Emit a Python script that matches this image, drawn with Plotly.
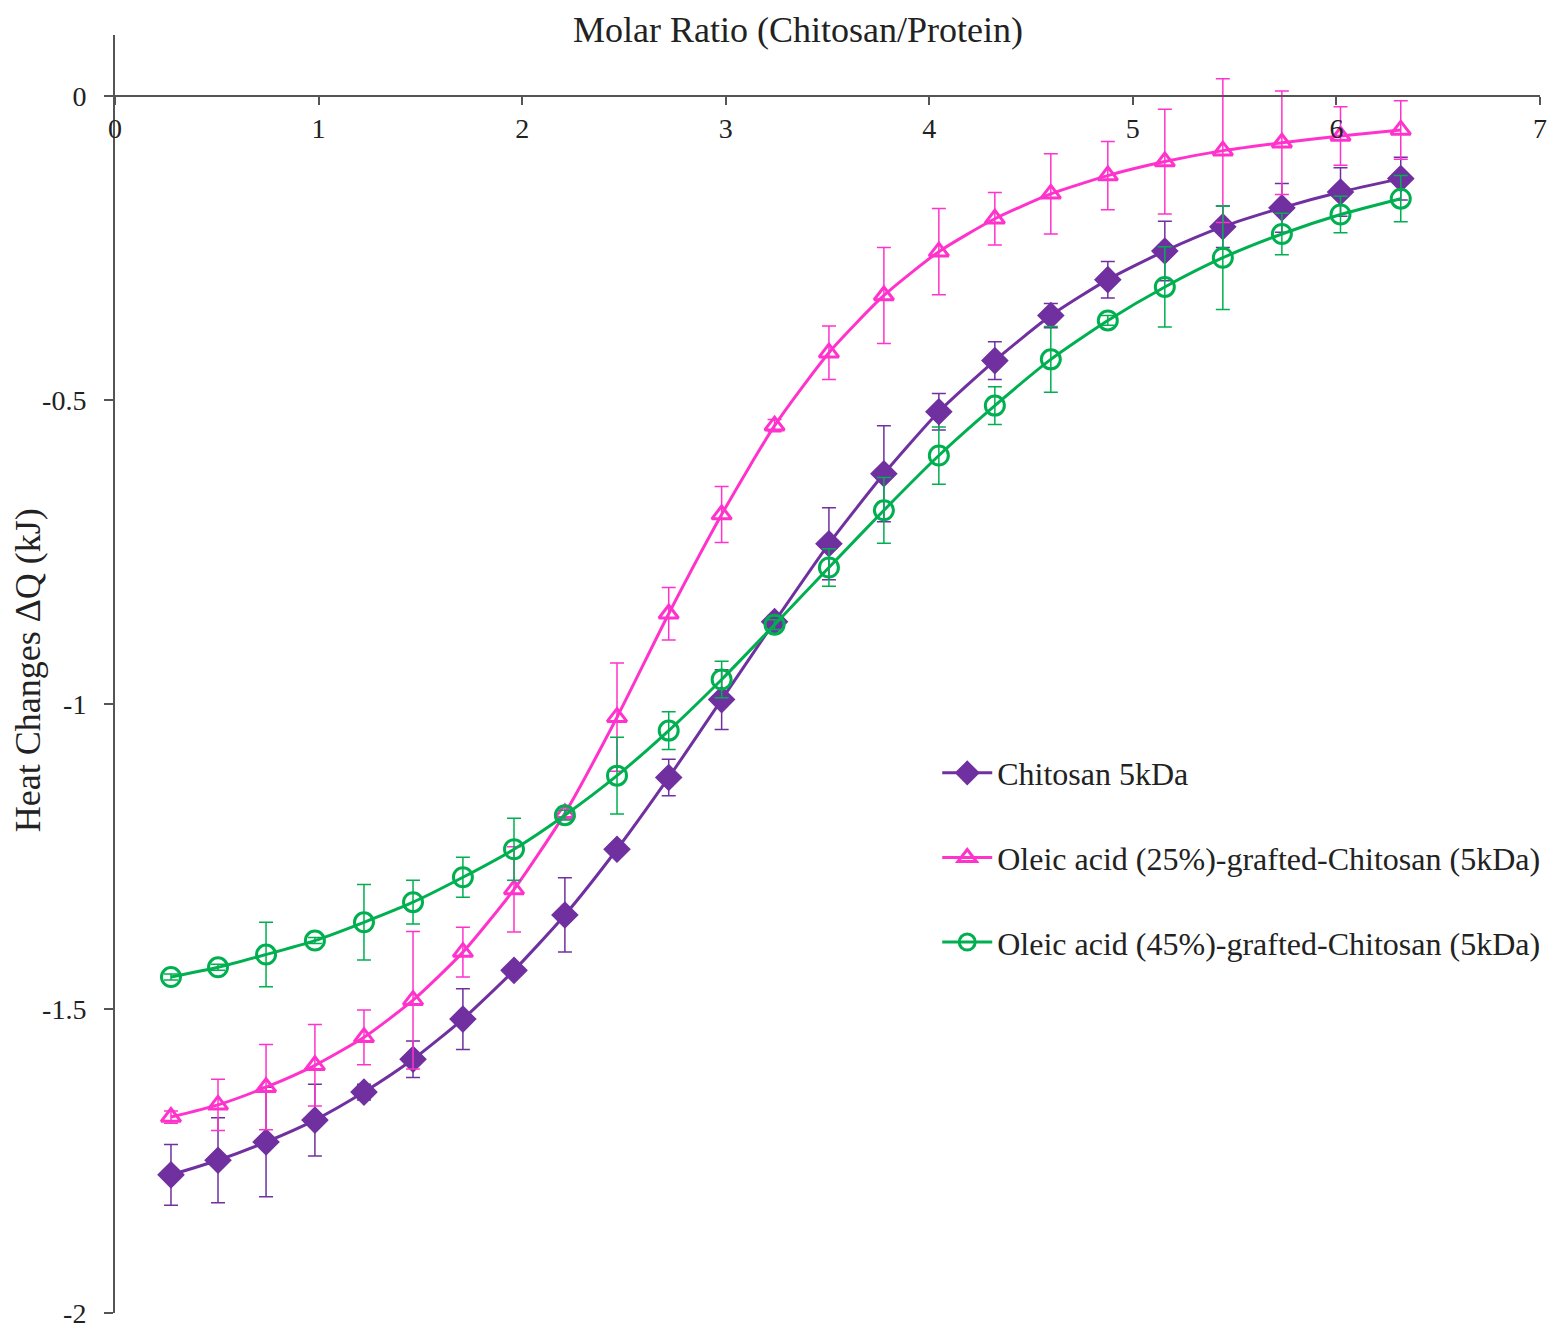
import plotly.graph_objects as go

# molar ratio (chitosan/protein) for each injection
molar_ratio = [0.275, 0.506, 0.742, 0.982, 1.223, 1.464, 1.709, 1.960, 2.210, 2.466, 2.720, 2.980,
               3.240, 3.507, 3.777, 4.047, 4.322, 4.597, 4.877, 5.157, 5.442, 5.732, 6.020, 6.316]

chitosan_5kda = [-1.773, -1.749, -1.719, -1.683, -1.637, -1.583, -1.517, -1.437, -1.346, -1.238, -1.120, -0.992,
                 -0.864, -0.736, -0.621, -0.519, -0.435, -0.361, -0.302, -0.255, -0.215, -0.184, -0.158, -0.136]
chitosan_5kda_err = [0.050, 0.070, 0.090, 0.059, 0.013, 0.030, 0.050, 0.005, 0.061, 0.005, 0.030, 0.049,
                     0.010, 0.059, 0.079, 0.030, 0.031, 0.020, 0.030, 0.049, 0.034, 0.040, 0.040, 0.035]

oleic_25 = [-1.678, -1.658, -1.629, -1.593, -1.547, -1.486, -1.407, -1.304, -1.179, -1.021, -0.851, -0.688,
            -0.542, -0.422, -0.328, -0.256, -0.202, -0.161, -0.131, -0.108, -0.090, -0.077, -0.066, -0.056]
oleic_25_err = [0.010, 0.042, 0.070, 0.067, 0.045, 0.113, 0.041, 0.070, 0.010, 0.089, 0.043, 0.046,
                0.010, 0.044, 0.079, 0.071, 0.043, 0.066, 0.056, 0.086, 0.118, 0.085, 0.048, 0.048]

oleic_45 = [-1.448, -1.432, -1.411, -1.388, -1.358, -1.325, -1.284, -1.238, -1.182, -1.117, -1.043, -0.959,
            -0.869, -0.775, -0.681, -0.591, -0.509, -0.433, -0.369, -0.314, -0.266, -0.227, -0.195, -0.169]
oleic_45_err = [0.005, 0.005, 0.053, 0.005, 0.062, 0.036, 0.033, 0.051, 0.008, 0.063, 0.031, 0.030,
                0.008, 0.031, 0.054, 0.047, 0.031, 0.054, 0.008, 0.066, 0.085, 0.034, 0.030, 0.038]

y_ticks = [0, -0.5, -1, -1.5, -2]
y_tick_labels = ['0', '-0.5', '-1', '-1.5', '-2']

series = [
    ('Chitosan 5kDa', chitosan_5kda, chitosan_5kda_err, '#7030A0', 'diamond', 18),
    ('Oleic acid (25%)-grafted-Chitosan (5kDa)', oleic_25, oleic_25_err, '#FF33CC', 'triangle-up-open', 17),
    ('Oleic acid (45%)-grafted-Chitosan (5kDa)', oleic_45, oleic_45_err, '#00B050', 'circle-open', 19),
]

font_family = 'Liberation Serif, Times New Roman, serif'

fig = go.Figure()
for i, (name, values, errs, color, symbol, size) in enumerate(series):
    fig.add_trace(go.Scatter(
        x=molar_ratio, y=values, name=name, mode='lines+markers',
        legendgroup=f'g{i}',
        line=dict(color=color, width=3, shape='spline', smoothing=0.6),
        marker=dict(symbol=symbol, size=size, color=color, line=dict(color=color, width=3)),
        error_y=dict(type='data', array=errs, visible=True, color=color, thickness=1.5, width=7),
    ))

# page body adds ~8px offset, margins compensate for it
fig.update_layout(
    width=1560, height=1332,
    margin=dict(l=107, r=28, t=27, b=27),
    plot_bgcolor='white', paper_bgcolor='white',
    font=dict(family=font_family, size=28, color='#222222'),
    showlegend=True,
    legend=dict(
        x=0.577, y=0.444, xanchor='left', yanchor='top',
        font=dict(size=32, color='#222222'), tracegroupgap=40,
        itemwidth=50, bgcolor='rgba(0,0,0,0)',
    ),
    xaxis=dict(
        range=[0, 7], dtick=1, anchor='free', position=2 / 2.1, side='bottom',
        showline=True, linecolor='#555555', linewidth=2,
        ticks='outside', ticklen=8, tickcolor='#555555', tickwidth=2,
        showgrid=False, zeroline=False, tickfont=dict(size=28),
    ),
    yaxis=dict(
        range=[-2, 0.1], tickvals=y_ticks, ticktext=y_tick_labels,
        showline=True, linecolor='#555555', linewidth=2,
        ticks='outside', ticklen=9, tickcolor='#555555', tickwidth=2,
        showgrid=False, zeroline=False, tickfont=dict(size=28), ticklabelstandoff=12,
    ),
    annotations=[
        dict(text='Molar Ratio (Chitosan/Protein)', x=0.479, y=1.004, xref='paper', yref='paper',
             xanchor='center', yanchor='middle', showarrow=False, font=dict(size=36)),
        dict(text='Heat Changes ΔQ (kJ)', x=-0.061, y=0.503, xref='paper', yref='paper',
             xanchor='center', yanchor='middle', textangle=-90, showarrow=False, font=dict(size=36)),
    ],
)

fig.write_html('out.html')
